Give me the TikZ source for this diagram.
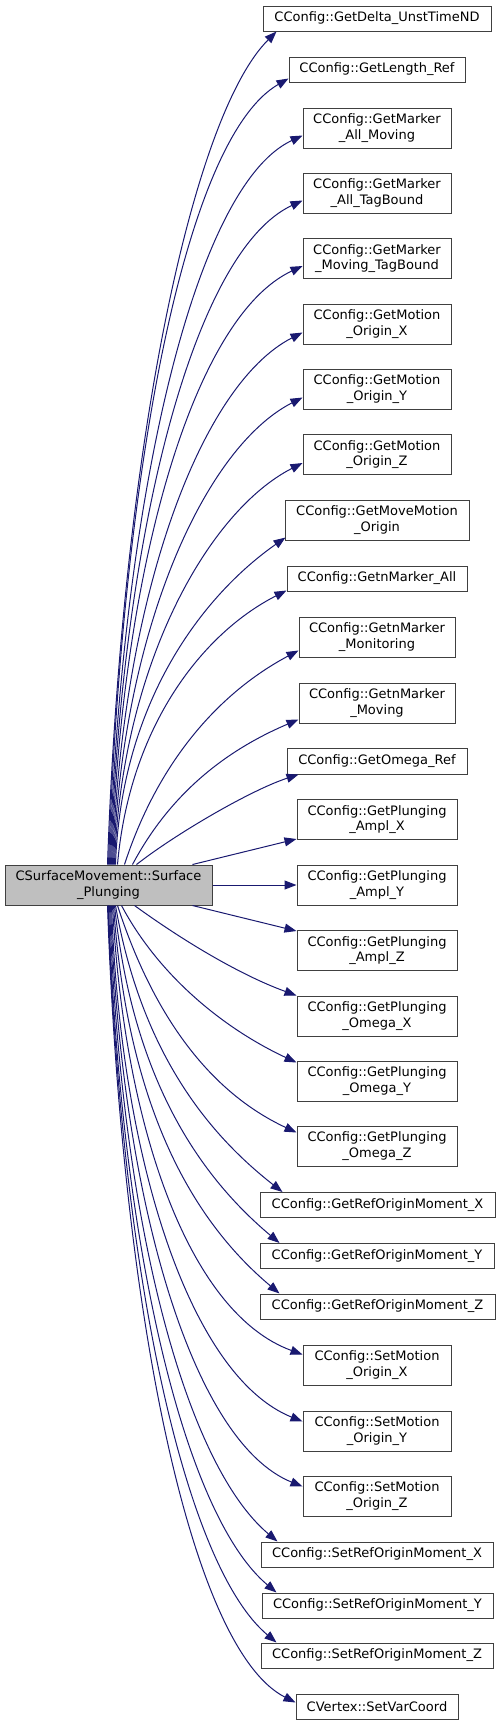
\documentclass[tikz,border=0pt]{standalone}
\usepackage{fontspec}
\setmainfont{DejaVu Sans}
\usetikzlibrary{arrows.meta,calc}
\definecolor{edgeblue}{HTML}{191970}
\definecolor{nodeborder}{HTML}{404040}
\definecolor{mainfill}{HTML}{BFBFBF}
\tikzset{
  fn/.style={draw=nodeborder, line width=1pt, fill=white, inner sep=0pt, align=center,
    font=\fontsize{13}{15.3}\selectfont, minimum height=25pt},
  fntwo/.style={fn, minimum height=40pt},
  callarrow/.style={draw=edgeblue, line width=1pt, -{Triangle[length=12pt,width=9pt]}}
}
\begin{document}
\begin{tikzpicture}[x=1pt,y=1pt]
\useasboundingbox (0,0) rectangle (500,-1725);
% main node
\node[fntwo, fill=mainfill, minimum width=207pt] (m) at (108.5,-885) {CSurfaceMovement::Surface\\\_Plunging};
% targets
\node[fn,    minimum width=228pt] (d1)  at (377,-18.5)  {CConfig::GetDelta\_UnstTimeND};
\node[fn,    minimum width=176pt] (d2)  at (377,-69.5)  {CConfig::GetLength\_Ref};
\node[fntwo, minimum width=148pt] (d3)  at (377,-128)   {CConfig::GetMarker\\\_All\_Moving};
\node[fntwo, minimum width=148pt] (d4)  at (377,-193)   {CConfig::GetMarker\\\_All\_TagBound};
\node[fntwo, minimum width=148pt] (d5)  at (377,-258.5) {CConfig::GetMarker\\\_Moving\_TagBound};
\node[fntwo, minimum width=148pt] (d6)  at (377,-324)   {CConfig::GetMotion\\\_Origin\_X};
\node[fntwo, minimum width=148pt] (d7)  at (377,-389)   {CConfig::GetMotion\\\_Origin\_Y};
\node[fntwo, minimum width=148pt] (d8)  at (377,-454.5) {CConfig::GetMotion\\\_Origin\_Z};
\node[fntwo, minimum width=184pt] (d9)  at (377,-520)   {CConfig::GetMoveMotion\\\_Origin};
\node[fn,    minimum width=180pt] (d10) at (377,-578.5) {CConfig::GetnMarker\_All};
\node[fntwo, minimum width=156pt] (d11) at (377,-637)   {CConfig::GetnMarker\\\_Monitoring};
\node[fntwo, minimum width=156pt] (d12) at (377,-703)   {CConfig::GetnMarker\\\_Moving};
\node[fn,    minimum width=180pt, minimum height=26pt] (d13) at (377,-761) {CConfig::GetOmega\_Ref};
\node[fntwo, minimum width=160pt] (d14) at (377,-819.5) {CConfig::GetPlunging\\\_Ampl\_X};
\node[fntwo, minimum width=160pt] (d15) at (377,-885)   {CConfig::GetPlunging\\\_Ampl\_Y};
\node[fntwo, minimum width=160pt] (d16) at (377,-950.5) {CConfig::GetPlunging\\\_Ampl\_Z};
\node[fntwo, minimum width=160pt] (d17) at (377,-1016)  {CConfig::GetPlunging\\\_Omega\_X};
\node[fntwo, minimum width=160pt] (d18) at (377,-1081)  {CConfig::GetPlunging\\\_Omega\_Y};
\node[fntwo, minimum width=160pt] (d19) at (377,-1146)  {CConfig::GetPlunging\\\_Omega\_Z};
\node[fn,    minimum width=235pt] (d20) at (377.5,-1205) {CConfig::GetRefOriginMoment\_X};
\node[fn,    minimum width=234pt] (d21) at (377,-1256)  {CConfig::GetRefOriginMoment\_Y};
\node[fn,    minimum width=235pt] (d22) at (377.5,-1306.5) {CConfig::GetRefOriginMoment\_Z};
\node[fntwo, minimum width=148pt] (d23) at (377,-1365)  {CConfig::SetMotion\\\_Origin\_X};
\node[fntwo, minimum width=148pt] (d24) at (377,-1431)  {CConfig::SetMotion\\\_Origin\_Y};
\node[fntwo, minimum width=148pt] (d25) at (377,-1496)  {CConfig::SetMotion\\\_Origin\_Z};
\node[fn,    minimum width=232pt] (d26) at (377,-1554.5) {CConfig::SetRefOriginMoment\_X};
\node[fn,    minimum width=231pt] (d27) at (377.5,-1605.5) {CConfig::SetRefOriginMoment\_Y};
\node[fn,    minimum width=232pt] (d28) at (377,-1655.5) {CConfig::SetRefOriginMoment\_Z};
\node[fn,    minimum width=162pt] (d29) at (377,-1706.5) {CVertex::SetVarCoord};
% upward edges
\draw[callarrow] ($(m.north west)+(103,0)$) .. controls +(88:417) and +(225:120) .. ($(d1.south west)+(14,0)$);
\draw[callarrow] ($(m.north west)+(104,0)$) .. controls +(88:394) and +(210:120) .. ($(d2.south west)+(0,4)$);
\draw[callarrow] ($(m.north west)+(105,0)$) .. controls +(88:365) and +(205:120) .. ($(d3.south west)+(0,13)$);
\draw[callarrow] ($(m.north west)+(106,0)$) .. controls +(88:333) and +(205:120) .. ($(d4.south west)+(0,13)$);
\draw[callarrow] ($(m.north west)+(107,0)$) .. controls +(88:300) and +(205:120) .. ($(d5.south west)+(0,13)$);
\draw[callarrow] ($(m.north west)+(108,0)$) .. controls +(88:267) and +(207:115) .. ($(d6.south west)+(0,12)$);
\draw[callarrow] ($(m.north west)+(109,0)$) .. controls +(88:234) and +(207:110) .. ($(d7.south west)+(0,12)$);
\draw[callarrow] ($(m.north west)+(110,0)$) .. controls +(88:201) and +(207:105) .. ($(d8.south west)+(0,12)$);
\draw[callarrow] ($(m.north west)+(111,0)$) .. controls +(88:164) and +(215:100) .. ($(d9.south west)+(1,3)$);
\draw[callarrow] ($(m.north west)+(113,0)$) .. controls +(85:138) and +(207:95) .. ($(d10.south west)+(0,1)$);
\draw[callarrow] ($(m.north west)+(120,0)$) .. controls +(72:108) and +(208:90) .. ($(d11.south west)+(0,7)$);
\draw[callarrow] ($(m.north west)+(128,0)$) .. controls +(62:75) and +(203:85) .. ($(d12.south west)+(0,4)$);
\draw[callarrow] ($(m.north west)+(132,0)$) .. controls +(38:50) and +(198:50) .. ($(d13.south west)+(12,0)$);
\draw[callarrow] ($(m.north west)+(188,0)$) -- ($(d14.south west)+(0,1)$);
\draw[callarrow] (m.east) -- (d15.west);
% downward edges
\draw[callarrow] ($(m.south west)+(188,0)$) -- ($(d16.north west)+(0,-1)$);
\draw[callarrow] ($(m.south west)+(130,0)$) .. controls +(-36:60) and +(160:60) .. (d17.north west);
\draw[callarrow] ($(m.south west)+(117,0)$) .. controls +(-62:80) and +(155:80) .. ($(d18.north west)+(0,-2)$);
\draw[callarrow] ($(m.south west)+(113,0)$) .. controls +(-72:110) and +(155:100) .. ($(d19.north west)+(0,-7)$);
\draw[callarrow] ($(m.south west)+(111,0)$) .. controls +(-80:144) and +(142:100) .. ($(d20.north west)+(23,0)$);
\draw[callarrow] ($(m.south west)+(110,0)$) .. controls +(-84:169) and +(140:110) .. ($(d21.north west)+(20,0)$);
\draw[callarrow] ($(m.south west)+(109,0)$) .. controls +(-86:195) and +(140:120) .. ($(d22.north west)+(20,0)$);
\draw[callarrow] ($(m.south west)+(108,0)$) .. controls +(-87:225) and +(160:120) .. ($(d23.north west)+(0,-10)$);
\draw[callarrow] ($(m.south west)+(107,0)$) .. controls +(-88:258) and +(158:120) .. ($(d24.north west)+(0,-11)$);
\draw[callarrow] ($(m.south west)+(106,0)$) .. controls +(-88:291) and +(158:120) .. ($(d25.north west)+(0,-11)$);
\draw[callarrow] ($(m.south west)+(105,0)$) .. controls +(-88:318) and +(140:120) .. ($(d26.north west)+(17,0)$);
\draw[callarrow] ($(m.south west)+(104,0)$) .. controls +(-88:344) and +(140:120) .. ($(d27.north west)+(15,0)$);
\draw[callarrow] ($(m.south west)+(103.5,0)$) .. controls +(-88:369) and +(140:120) .. ($(d28.north west)+(16,0)$);
\draw[callarrow] ($(m.south west)+(103,0)$) .. controls +(-88:399) and +(153:120) .. ($(d29.north west)+(0,-9)$);
\end{tikzpicture}
\end{document}
